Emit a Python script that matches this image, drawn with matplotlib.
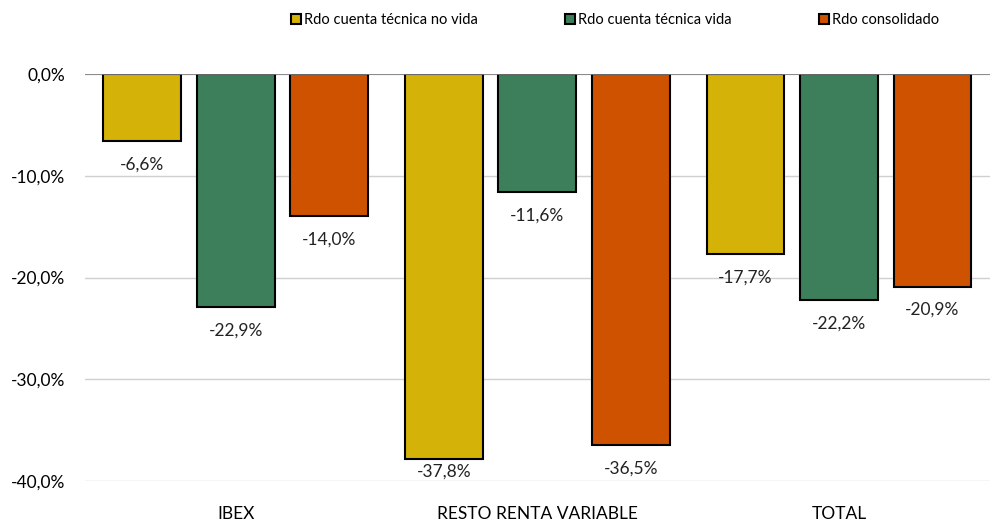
import matplotlib.pyplot as plt
import numpy as np

plt.rcParams['font.family'] = ['Lato', 'DejaVu Sans']

categories = ['IBEX', 'RESTO RENTA VARIABLE', 'TOTAL']
series_names = ['Rdo cuenta técnica no vida', 'Rdo cuenta técnica vida', 'Rdo consolidado']
no_vida = [-6.6, -37.8, -17.7]
vida = [-22.9, -11.6, -22.2]
consolidado = [-14.0, -36.5, -20.9]
colors = ['#D4B208', '#3C7F5A', '#CF5200']

series = [no_vida, vida, consolidado]
yticks = [0, -10, -20, -30, -40]
ymin = -40

fig = plt.figure(figsize=(9.92, 5.24), dpi=100)
ax = fig.add_axes([0.0857, 0.082, 0.912, 0.7768])

x = np.arange(len(categories))
width = 0.258
offsets = [-0.31, 0, 0.31]

for vals, off, col, name in zip(series, offsets, colors, series_names):
    bars = ax.bar(x + off, vals, width, color=col, edgecolor='black',
                  linewidth=1.5, label=name, zorder=3)
    for b, v in zip(bars, vals):
        txt = f'{v:.1f}%'.replace('.', ',')
        cx = b.get_x() + b.get_width() / 2
        if v - 3.1 < ymin:
            # keep the label inside the plot area
            ax.annotate(txt, (cx, ymin), xytext=(0, 1), textcoords='offset points',
                        ha='center', va='bottom', fontsize=12.5, color='#222222')
        else:
            ax.annotate(txt, (cx, v), xytext=(0, -11), textcoords='offset points',
                        ha='center', va='top', fontsize=12.5, color='#222222')

ax.set_xlim(-0.5, 2.5)
ax.set_ylim(ymin, 0)
ax.set_yticks(yticks)
ax.set_yticklabels([f'{t:.1f}%'.replace('.', ',') for t in yticks], fontsize=12.5)
ax.set_xticks(x)
ax.set_xticklabels(categories, fontsize=12.5)
ax.tick_params(axis='x', length=0, pad=18)
ax.tick_params(axis='y', length=0, pad=14)

ax.grid(axis='y', color='#d0d0d0', linewidth=1, zorder=0)
ax.axhline(0, color='#7f7f7f', linewidth=1.2, zorder=4)
for s in ax.spines.values():
    s.set_visible(False)

fig.legend(loc='upper center', bbox_to_anchor=(0.62, 1.0), ncol=3, frameon=False,
           fontsize=10.5, handlelength=0.7, handleheight=0.7, handletextpad=0.2,
           columnspacing=6.0)

fig.savefig('out.png', dpi=100)
